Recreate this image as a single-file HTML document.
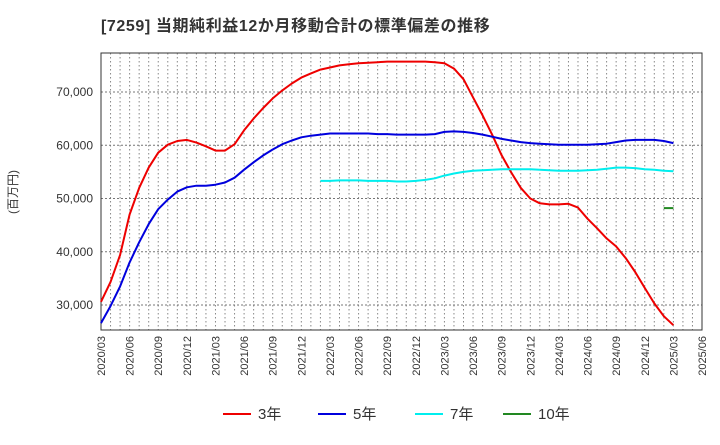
<!DOCTYPE html>
<html><head><meta charset="utf-8"><style>
body{margin:0;background:#fff;font-family:"Liberation Sans","Noto Sans CJK JP",sans-serif;}
</style></head><body>
<svg id="chart" width="720" height="440" xmlns="http://www.w3.org/2000/svg" style="font-family:'Liberation Sans','Noto Sans CJK JP',sans-serif">
<text x="101" y="31" font-size="16" font-weight="bold" letter-spacing="0.6" fill="#333">[7259]  当期純利益12か月移動合計の標準偏差の推移</text>
<text transform="translate(17,192) rotate(-90)" text-anchor="middle" font-size="12" fill="#333">(百万円)</text>
<g id="grid"></g><g id="axes"></g><g id="series"></g><g id="legend"></g>
</svg>
<script>
const yTicks=[30000,40000,50000,60000,70000];
const xTickLabels=["2020/03","2020/06","2020/09","2020/12","2021/03","2021/06","2021/09","2021/12","2022/03","2022/06","2022/09","2022/12","2023/03","2023/06","2023/09","2023/12","2024/03","2024/06","2024/09","2024/12","2025/03","2025/06"];
const s3=[30600,34300,39400,47000,52000,55800,58600,60100,60800,61000,60500,59800,59000,59000,60200,62800,65000,67000,68800,70300,71600,72700,73500,74200,74600,75000,75200,75400,75500,75600,75700,75700,75700,75700,75700,75600,75400,74400,72400,69000,65600,62000,58100,54900,52000,50000,49100,48900,48900,49000,48300,46200,44400,42500,41000,38800,36200,33200,30300,27900,26200];
const s5=[26600,29800,33500,38000,41800,45200,48000,49800,51300,52100,52400,52400,52600,53000,53900,55400,56800,58100,59200,60200,60900,61500,61800,62000,62200,62200,62200,62200,62200,62100,62100,62000,62000,62000,62000,62100,62500,62600,62500,62300,62000,61600,61200,60900,60600,60400,60300,60200,60100,60100,60100,60100,60200,60300,60600,60900,61000,61000,61000,60800,60400];
const s7=[null,null,null,null,null,null,null,null,null,null,null,null,null,null,null,null,null,null,null,null,null,null,null,53300,53300,53400,53400,53400,53300,53300,53300,53200,53200,53300,53500,53800,54300,54700,55000,55200,55300,55400,55500,55500,55500,55500,55400,55300,55200,55200,55200,55300,55400,55600,55800,55800,55700,55500,55400,55200,55100];
const s10=[null,null,null,null,null,null,null,null,null,null,null,null,null,null,null,null,null,null,null,null,null,null,null,null,null,null,null,null,null,null,null,null,null,null,null,null,null,null,null,null,null,null,null,null,null,null,null,null,null,null,null,null,null,null,null,null,null,null,null,48200,48200];
const seriesNames=["3年","5年","7年","10年"];
const L=101,R=702,T=53,B=330,NS="http://www.w3.org/2000/svg";
const xs=i=>L+i*(R-L)/63;
const ys=v=>305-(v-30000)*53.25/10000;
function mk(tag,attrs,parent){const e=document.createElementNS(NS,tag);for(const k in attrs)e.setAttribute(k,attrs[k]);document.getElementById(parent).appendChild(e);return e;}
for(let m=1;m<63;m++){const e=mk('line',{x1:xs(m),x2:xs(m),y1:T,y2:B,stroke:'#888','stroke-dasharray':'1.5,2.5','stroke-width':1},'grid');

}
yTicks.forEach(v=>{const e=mk('line',{x1:L,x2:R,y1:ys(v),y2:ys(v),stroke:'#777','stroke-dasharray':'2,2','stroke-width':1},'grid');


const t=mk('text',{x:L-8,y:ys(v)+4,'text-anchor':'end','font-size':12,fill:'#333'},'axes');t.textContent=v.toLocaleString('en-US');

});
xTickLabels.forEach((s,i)=>{const x=xs(i*3);const t=mk('text',{transform:`translate(${x+4},${B+6}) rotate(-90)`,'text-anchor':'end','font-size':11,fill:'#333'},'axes');t.textContent=s;

});
const fr=mk('rect',{x:L,y:T,width:R-L,height:B-T,fill:'none',stroke:'#333','stroke-width':1},'axes');


const cols=['#ee0000','#0000dd','#00eeee','#228822'];
[s3,s5,s7,s10].forEach((arr,k)=>{let d='';let pen=false;arr.forEach((v,i)=>{if(v==null){pen=false;return;}d+=(pen?'L':'M')+xs(i).toFixed(1)+','+ys(v).toFixed(1);pen=true;});
const p=mk('path',{d:d,fill:'none',stroke:cols[k],'stroke-width':2,'stroke-linejoin':'round'},'series');

});
const lx=[223,318,415,503];
seriesNames.forEach((n,k)=>{const g=mk('g',{},'legend');


const l=document.createElementNS(NS,'line');l.setAttribute('x1',lx[k]);l.setAttribute('x2',lx[k]+28);l.setAttribute('y1',414);l.setAttribute('y2',414);l.setAttribute('stroke',cols[k]);l.setAttribute('stroke-width',2);g.appendChild(l);
const t=document.createElementNS(NS,'text');t.setAttribute('x',lx[k]+35);t.setAttribute('y',419);t.setAttribute('font-size',15);t.setAttribute('fill','#333');t.textContent=n;g.appendChild(t);});
</script>
</body></html>
